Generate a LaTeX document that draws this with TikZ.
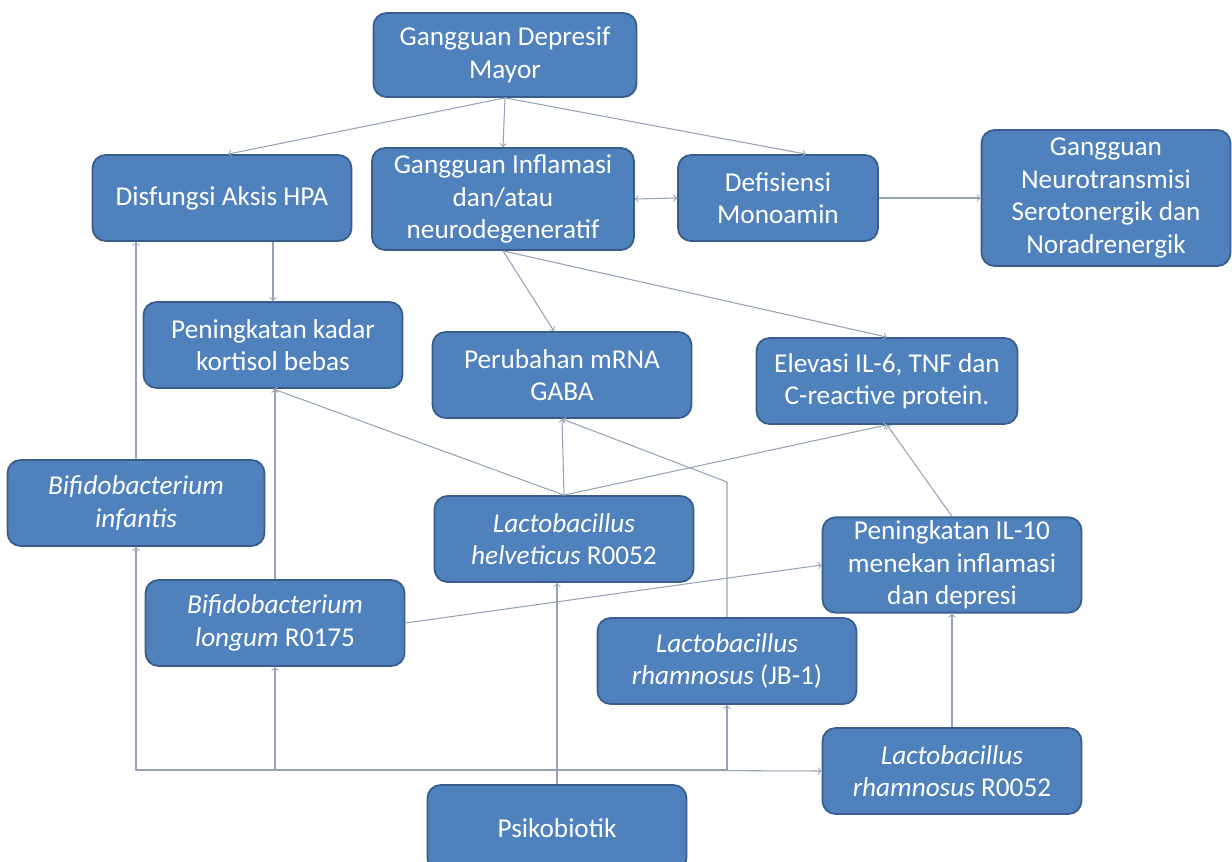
\documentclass[tikz,border=0pt]{standalone}
\usepackage{fontspec}
\setmainfont{Carlito}
\definecolor{boxfill}{RGB}{79,129,189}
\definecolor{boxline}{RGB}{56,93,138}
\definecolor{linecol}{RGB}{150,162,182}
\newcommand{\boxfont}{\fontsize{15.5}{18.5}\selectfont}
\tikzset{
  box/.style={draw=boxline, fill=boxfill, line width=1pt, rounded corners=0.26cm,
    text=white, align=center, font=\boxfont, inner sep=2pt,
    minimum width=5.18cm, minimum height=1.72cm},
  conn/.style={draw=linecol, line width=0.6pt, ->},
}
\begin{document}
\begin{tikzpicture}[x=0.02cm, y=-0.02cm]
  \useasboundingbox (0,0) rectangle (1232,862);
  \clip (0,0) rectangle (1232,862);
  % boxes, top row
  \node[box, minimum width=5.26cm, minimum height=1.68cm] (gdm) at (505,55) {Gangguan Depresif\\Mayor};
  \node[box] (hpa) at (222,198) {Disfungsi Aksis HPA};
  \node[box, minimum width=5.24cm, minimum height=2.04cm] (infl) at (503,199) {Gangguan Inflamasi\\dan/atau\\neurodegeneratif};
  \node[box, minimum width=4.0cm] (def) at (778,198) {Defisiensi\\Monoamin};
  \node[box, minimum width=4.98cm, minimum height=2.72cm] (neuro) at (1106,198) {Gangguan\\Neurotransmisi\\Serotonergik dan\\Noradrenergik};
  % effects
  \node[box] (kort) at (273,345) {Peningkatan kadar\\kortisol bebas};
  \node[box] (mrna) at (562,375) {Perubahan mRNA\\GABA};
  \node[box, minimum width=5.22cm] (elev) at (887,381) {Elevasi IL-6, TNF dan\\C-reactive protein.};
  \node[box] (il10) at (952,565) {Peningkatan IL-10\\menekan inflamasi\\dan depresi};
  % bacteria
  \node[box, minimum width=5.14cm] (binf) at (136,503) {\textit{Bifidobacterium}\\\textit{infantis}};
  \node[box] (helv) at (564,539) {\textit{Lactobacillus}\\\textit{helveticus} R0052};
  \node[box] (blong) at (275,623) {\textit{Bifidobacterium}\\\textit{longum} R0175};
  \node[box] (jb) at (727,661) {\textit{Lactobacillus}\\\textit{rhamnosus} (JB-1)};
  \node[box] (r52) at (952,771) {\textit{Lactobacillus}\\\textit{rhamnosus} R0052};
  \node[box] (psi) at (557,828) {Psikobiotik};
  \coordinate (bus) at (557,770);
  \coordinate (jbbend) at (727,482);
  % connectors
  \draw[conn] (gdm.south) -- ([xshift=0.12cm]hpa.north);
  \draw[conn] (gdm.south) -- (infl.north);
  \draw[conn] (gdm.south) -- ([xshift=0.56cm]def.north);
  \draw[conn, <->] (infl.east) -- (def.west);
  \draw[conn] (def.east) -- (neuro.west);
  \draw[conn] (kort.north |- hpa.south) -- (kort.north);
  \draw[conn] (infl.south) -- ([xshift=-0.16cm]mrna.north);
  \draw[conn] (infl.south) -- (elev.north);
  \draw[conn] (helv.north) -- (kort.south);
  \draw[conn] (helv.north) -- (mrna.south);
  \draw[conn] (helv.north) -- (elev.south);
  \draw[conn] (il10.north) -- (elev.south);
  \draw[conn] (jb.north) -- (jbbend) -- (mrna.south);
  \draw[conn] (blong.east) -- (il10.west);
  \draw[conn] (binf.north) -- (binf.north |- hpa.south);
  \draw[conn] (blong.north) -- (blong.north |- kort.south);
  \draw[conn] (r52.north) -- (il10.south);
  % psikobiotik bus
  \draw[conn] (psi.north) -- (psi.north |- helv.south);
  \draw[conn] (bus) -| (binf.south);
  \draw[conn] (bus) -| (blong.south);
  \draw[conn] (bus) -| (jb.south);
  \draw[conn] (bus) -- (r52.west);
\end{tikzpicture}
\end{document}
